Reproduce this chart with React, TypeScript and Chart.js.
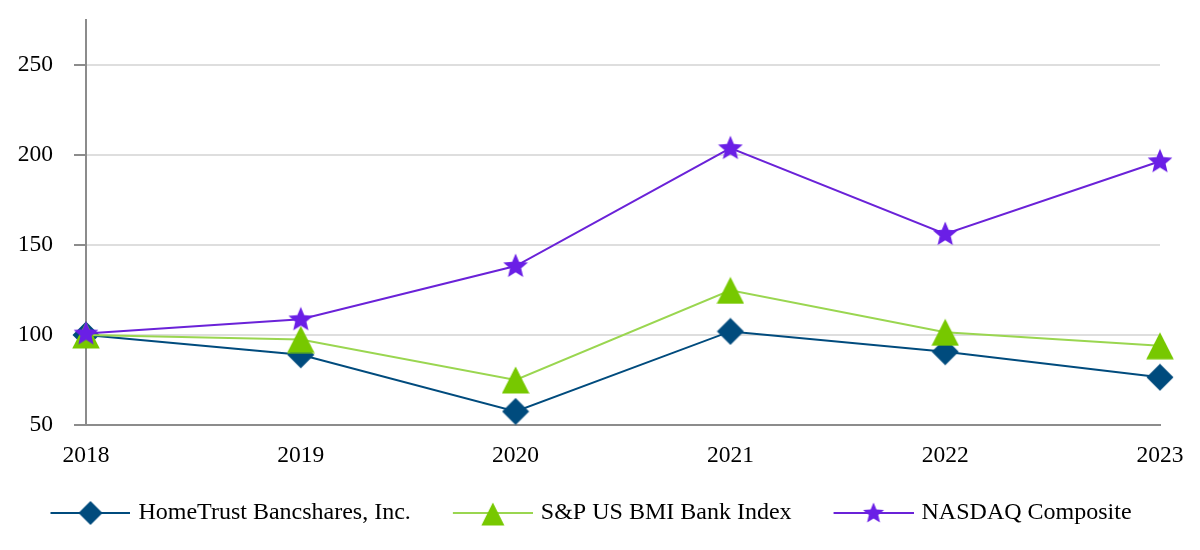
import React, { useEffect, useRef } from "react";
import { Chart, registerables } from "chart.js";

Chart.register(...registerables);

const years = ["2018", "2019", "2020", "2021", "2022", "2023"];
const homeTrust = [100, 89, 57.5, 102, 90.7, 76.5];
const spBank = [100, 97.5, 75, 124.8, 101.5, 94];
const nasdaq = [100.8, 108.7, 138.3, 203.8, 156.1, 196.5];
const seriesNames = ["HomeTrust Bancshares, Inc.", "S&P US BMI Bank Index", "NASDAQ Composite"];
const yTicks = [50, 100, 150, 200, 250];

const FONT = "'Liberation Serif', 'Times New Roman', serif";
const AXIS = "#8c8c8c";
const GRID = "#dedede";
const HT_COLOR = "#004b7d";
const SP_LINE = "#9ad650";
const SP_MARK = "#77c800";
const NQ_LINE = "#6a22d8";
const NQ_MARK = "#6a1fe6";

function makeCanvas(w: number, h: number, draw: (ctx: CanvasRenderingContext2D) => void) {
  const c = document.createElement("canvas");
  c.width = w;
  c.height = h;
  const ctx = c.getContext("2d") as CanvasRenderingContext2D;
  draw(ctx);
  return c;
}

function diamond(ctx: CanvasRenderingContext2D, cx: number, cy: number, r: number, color: string) {
  ctx.beginPath();
  ctx.moveTo(cx, cy - r);
  ctx.lineTo(cx + r, cy);
  ctx.lineTo(cx, cy + r);
  ctx.lineTo(cx - r, cy);
  ctx.closePath();
  ctx.fillStyle = color;
  ctx.fill();
}

function triangle(ctx: CanvasRenderingContext2D, cx: number, cy: number, w: number, h: number, color: string) {
  ctx.beginPath();
  ctx.moveTo(cx, cy - h / 2);
  ctx.lineTo(cx + w / 2, cy + h / 2);
  ctx.lineTo(cx - w / 2, cy + h / 2);
  ctx.closePath();
  ctx.fillStyle = color;
  ctx.fill();
}

function star(ctx: CanvasRenderingContext2D, cx: number, cy: number, R: number, color: string) {
  const rIn = R * 0.45;
  ctx.beginPath();
  for (let i = 0; i < 10; i++) {
    const a = -Math.PI / 2 + (i * Math.PI) / 5;
    const rad = i % 2 === 0 ? R : rIn;
    const x = cx + Math.cos(a) * rad;
    const y = cy + Math.sin(a) * rad;
    if (i === 0) ctx.moveTo(x, y);
    else ctx.lineTo(x, y);
  }
  ctx.closePath();
  ctx.fillStyle = color;
  ctx.fill();
}

// legend icon: transparent margin on the left, then an 80px line with the marker in its middle
const ICON_W = 96;
const ICON_H = 30;
const LINE_START = 16;
function legendIcon(lineColor: string, drawMark: (ctx: CanvasRenderingContext2D, cx: number, cy: number) => void) {
  return makeCanvas(ICON_W, ICON_H, (ctx) => {
    ctx.strokeStyle = lineColor;
    ctx.lineWidth = 2;
    ctx.beginPath();
    ctx.moveTo(LINE_START, ICON_H / 2);
    ctx.lineTo(ICON_W, ICON_H / 2);
    ctx.stroke();
    drawMark(ctx, (LINE_START + ICON_W) / 2, ICON_H / 2);
  });
}

export default function App() {
  const ref = useRef<HTMLCanvasElement | null>(null);

  useEffect(() => {
    if (!ref.current) return;
    const diaImg = makeCanvas(28, 28, (ctx) => diamond(ctx, 14, 14, 13.5, HT_COLOR));
    const triImg = makeCanvas(28, 28, (ctx) => triangle(ctx, 14, 14, 27.5, 27, SP_MARK));
    const starImg = makeCanvas(26, 26, (ctx) => star(ctx, 13, 13.5, 13, NQ_MARK));
    const icons = [
      legendIcon(HT_COLOR, (ctx, cx, cy) => diamond(ctx, cx, cy, 12, HT_COLOR)),
      legendIcon(SP_LINE, (ctx, cx, cy) => triangle(ctx, cx, cy + 1, 23, 23, SP_MARK)),
      legendIcon(NQ_LINE, (ctx, cx, cy) => star(ctx, cx, cy + 0.5, 11, NQ_MARK)),
    ];

    const chart = new Chart(ref.current, {
      type: "line",
      data: {
        labels: years,
        datasets: [
          {
            label: seriesNames[0],
            data: homeTrust,
            borderColor: HT_COLOR,
            backgroundColor: HT_COLOR,
            borderWidth: 2,
            pointStyle: diaImg,
            pointRadius: 14,
            pointBorderWidth: 0,
            tension: 0,
            order: 3,
            clip: false,
          },
          {
            label: seriesNames[1],
            data: spBank,
            borderColor: SP_LINE,
            backgroundColor: SP_MARK,
            borderWidth: 2,
            pointStyle: triImg,
            pointRadius: 14,
            pointBorderWidth: 0,
            tension: 0,
            order: 2,
            clip: false,
          },
          {
            label: seriesNames[2],
            data: nasdaq,
            borderColor: NQ_LINE,
            backgroundColor: NQ_MARK,
            borderWidth: 2,
            pointStyle: starImg,
            pointRadius: 13,
            pointBorderWidth: 0,
            tension: 0,
            order: 1,
            clip: false,
          },
        ],
      } as any,
      options: {
        animation: false,
        responsive: true,
        maintainAspectRatio: false,
        layout: { padding: { top: 20, right: 30, bottom: 15, left: 0 } },
        plugins: {
          tooltip: { enabled: false },
          legend: {
            position: "bottom",
            labels: {
              usePointStyle: true,
              pointStyleWidth: 88,
              padding: 30,
              color: "#000",
              font: { family: FONT, size: 24 },
              generateLabels: (c: any) =>
                c.data.datasets.map((ds: any, i: number) => ({
                  text: ds.label,
                  pointStyle: icons[i],
                  fillStyle: "transparent",
                  strokeStyle: "transparent",
                  lineWidth: 0,
                  hidden: false,
                  datasetIndex: i,
                })),
            },
          },
        },
        scales: {
          x: {
            type: "category",
            offset: false,
            grid: { display: false, drawTicks: false },
            border: { display: true, color: AXIS, width: 2 },
            ticks: {
              color: "#000",
              font: { family: FONT, size: 23.5 },
              padding: 17,
              maxRotation: 0,
              autoSkip: false,
            },
            afterFit: (s: any) => {
              s.height = 46;
              s.paddingRight = 40;
            },
          },
          y: {
            min: 50,
            max: 275,
            afterBuildTicks: (s: any) => {
              s.ticks = yTicks.map((v) => ({ value: v }));
            },
            grid: {
              color: (ctx: any) => (ctx.tick && ctx.tick.value === 50 ? AXIS : GRID),
              lineWidth: 2,
              tickColor: AXIS,
              tickLength: 12,
              tickWidth: 2,
            },
            border: { color: AXIS, width: 2 },
            ticks: {
              color: "#000",
              font: { family: FONT, size: 23.5 },
              padding: 21,
            },
            afterFit: (s: any) => {
              s.width = 86;
              s.paddingTop = 0;
              s.paddingBottom = 0;
            },
          },
        },
      } as any,
    });
    return () => chart.destroy();
  }, []);

  return (
    <div style={{ position: "fixed", left: 0, top: 0, width: 1200, height: 550, background: "#fff" }}>
      <canvas ref={ref} />
    </div>
  );
}
